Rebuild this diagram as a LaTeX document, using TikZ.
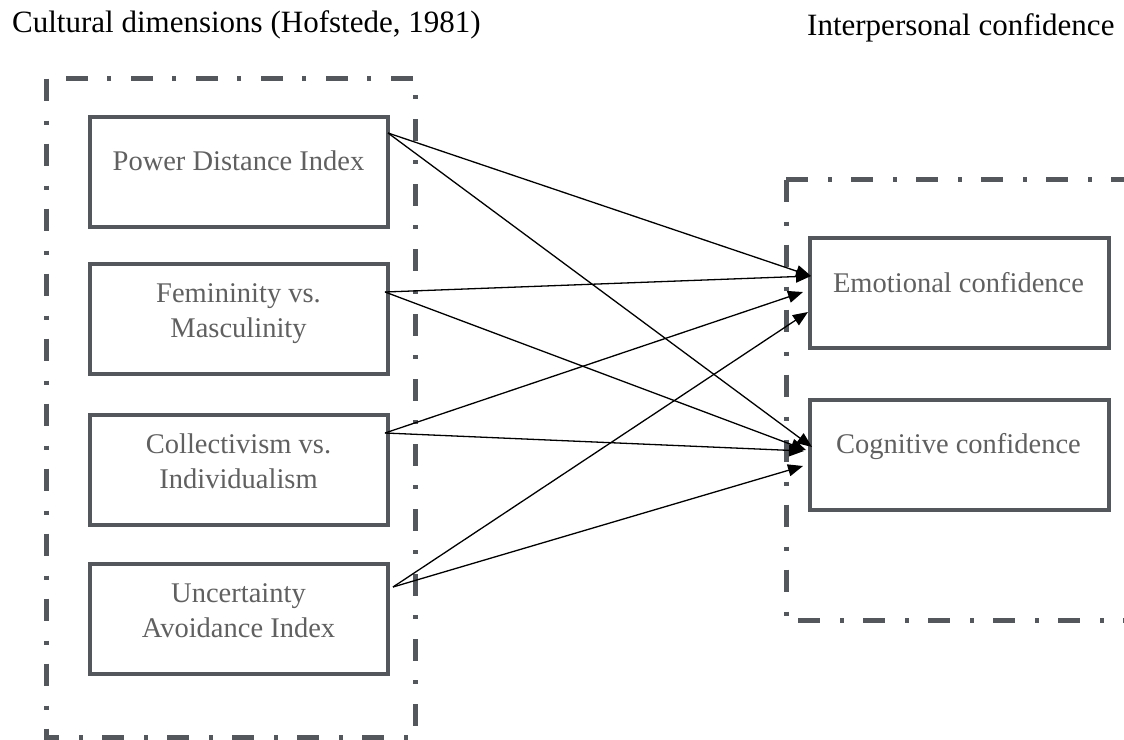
\documentclass[tikz,border=0pt]{standalone}
\usepackage{fontspec}
\setmainfont{Liberation Serif}
\usetikzlibrary{arrows.meta}
\definecolor{boxgray}{RGB}{84,87,91}
\definecolor{txtgray}{RGB}{96,96,96}
\begin{document}
\begin{tikzpicture}[x=1pt,y=-1pt,
  dimbox/.style={draw=boxgray,line width=4pt,minimum width=297.5pt,minimum height=110pt,inner sep=0pt},
  confbox/.style={draw=boxgray,line width=4pt,minimum width=299.4pt,minimum height=110pt,inner sep=0pt},
  lbl/.style={text=txtgray,inner sep=0pt,align=center,anchor=base,font=\fontsize{28.5}{35}\selectfont},
  ttl/.style={text=black,inner sep=0pt,anchor=base west,font=\fontsize{31}{36}\selectfont},
  dashbox/.style={draw=boxgray,line width=5pt,dash pattern=on 22pt off 20pt on 4pt off 19pt},
  arr/.style={draw=black,line width=1.3pt,-{Triangle[length=15pt,width=12pt]}}
]
\useasboundingbox (0,0) rectangle (1124,739);

% titles
\node[ttl] (t1) at (12,32) {Cultural dimensions (Hofstede, 1981)};
\node[ttl] (t2) at (807,35) {Interpersonal confidence};

% dash-dot group frames
\draw[dashbox] (46.3,78.5) rectangle (415.7,737.5);
\draw[dashbox] (786.3,179.5) -- (1135,179.5);
\draw[dashbox] (786.3,179.5) -- (786.3,620.7);
\draw[dashbox,dash phase=53pt] (786.3,620.7) -- (1135,620.7);

% left boxes
\node[dimbox] (pd)  at (238.75,171.9) {};
\node[dimbox] (fem) at (238.75,318.8) {};
\node[dimbox] (col) at (238.75,470.0) {};
\node[dimbox] (unc) at (238.75,619.2) {};
% right boxes
\node[confbox] (emo) at (959.5,293.3) {};
\node[confbox] (cog) at (959.5,454.5) {};

% box texts (base = baseline of last line)
\node[lbl] (pdt)  at (238.5,170) {Power Distance Index};
\node[lbl] (femt) at (238.5,337) {Femininity vs.\\Masculinity};
\node[lbl] (colt) at (238.5,488) {Collectivism vs.\\Individualism};
\node[lbl] (unct) at (238.5,637) {Uncertainty\\Avoidance Index};
\node[lbl] (emot) at (958.5,292) {Emotional confidence};
\node[lbl] (cogt) at (958.5,453) {Cognitive confidence};

% ports
\coordinate (pdo)  at (388,133);
\coordinate (femo) at (385,292);
\coordinate (colo) at (385,433);
\coordinate (unco) at (393,587);
\coordinate (emo1) at (811,276);
\coordinate (emo2) at (811,276);
\coordinate (emo3) at (803,292);
\coordinate (emo4) at (808,312);
\coordinate (cog1) at (812,447);
\coordinate (cog2) at (806,450);
\coordinate (cog3) at (804,451);
\coordinate (cog4) at (803,466);

% connectors
\draw[arr] (pdo)  -- (emo1);
\draw[arr] (pdo)  -- (cog1);
\draw[arr] (femo) -- (emo2);
\draw[arr] (femo) -- (cog2);
\draw[arr] (colo) -- (emo3);
\draw[arr] (colo) -- (cog3);
\draw[arr] (unco) -- (emo4);
\draw[arr] (unco) -- (cog4);
\end{tikzpicture}
\end{document}
